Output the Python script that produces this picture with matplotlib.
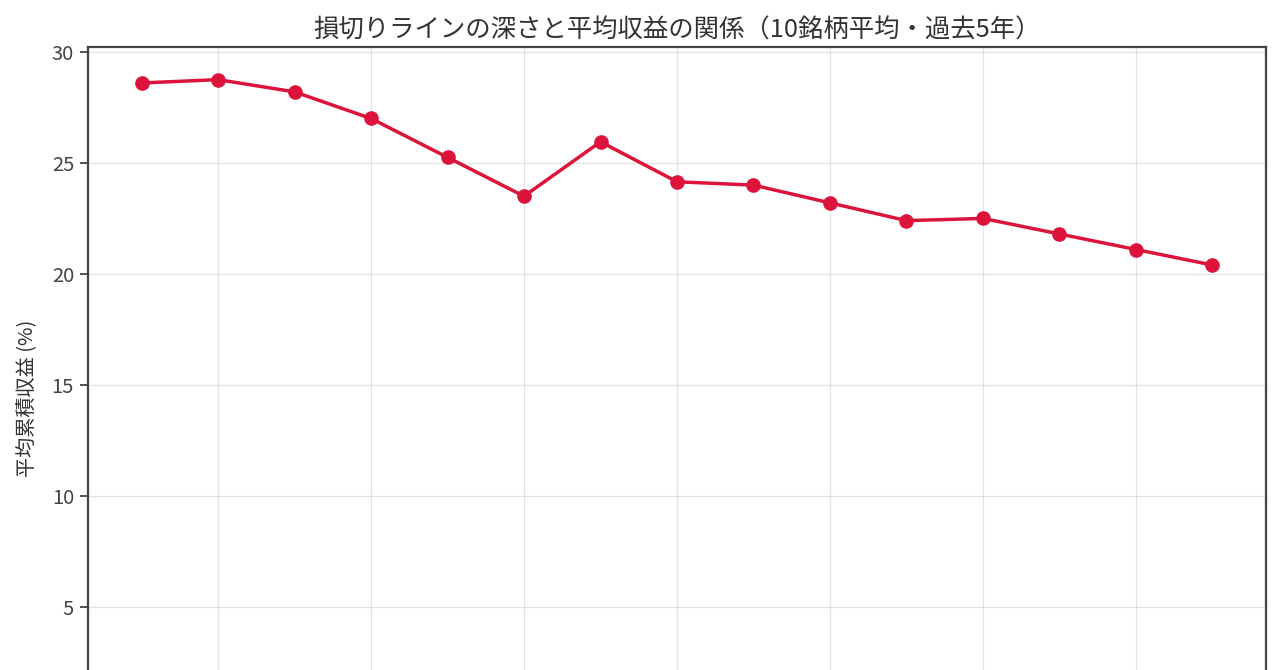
import matplotlib
matplotlib.use('Agg')
import matplotlib.pyplot as plt

plt.rcParams['font.family'] = ['Noto Sans CJK JP', 'DejaVu Sans']

# 損切りラインの深さ (%) と平均累積収益 (%)
stop_loss = [1, 2, 3, 4, 5, 6, 7, 8, 9, 10, 11, 12, 13, 14, 15]
avg_return = [28.6, 28.75, 28.2, 27.0, 25.25, 23.5, 25.95, 24.15, 24.0,
              23.2, 22.4, 22.5, 21.8, 21.1, 20.4]
y_ticks = [5, 10, 15, 20, 25, 30]

W, H = 1280, 670
fig = plt.figure(figsize=(W / 100, H / 100), dpi=100)
# axes run past the bottom edge of the picture
left, right, top, bottom = 88, 1266, 47, 750
ax = fig.add_axes([left / W, 1 - bottom / H, (right - left) / W, (bottom - top) / H])

ax.plot(stop_loss, avg_return, color='#DC143C', lw=2.5, marker='o', ms=9.5)

ax.set_ylim(-1.44, 30.22)
ax.set_yticks(y_ticks)
ax.set_xticks([2, 4, 6, 8, 10, 12, 14])
ax.grid(True, color='#cccccc', alpha=0.55, lw=0.9)
for s in ax.spines.values():
    s.set_color('#444444')
    s.set_linewidth(1.6)
ax.tick_params(axis='y', labelsize=14.5, colors='#444444', length=6, width=1.3, pad=4)
# x tick labels fall below the visible area
ax.tick_params(axis='x', labelbottom=False, length=6, width=1.3, colors='#444444')

ax.set_title('損切りラインの深さと平均収益の関係（10銘柄平均・過去5年）',
             fontsize=18.3, color='#333333', pad=7)
ax.set_ylabel('平均累積収益 (%)', fontsize=14.5, color='#333333', labelpad=10)

fig.savefig('out.png', dpi=100)
